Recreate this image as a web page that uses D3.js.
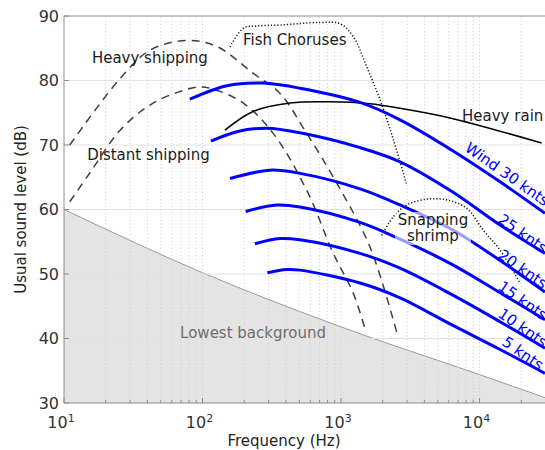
<!DOCTYPE html>
<html>
<head>
<meta charset="utf-8">
<script src="https://cdn.jsdelivr.net/npm/d3@7"></script>
<style>
  body { margin: 0; background: #fff; }
  svg { font-family: "DejaVu Sans", Verdana, sans-serif; }
</style>
</head>
<body>
<div id="container"></div>
<script>
/**
 * DATA (frequency in Hz, level in dB)
 * */
const yTicks = [30, 40, 50, 60, 70, 80, 90];
const xDecades = [1, 2, 3, 4];

const lowestBackground = [[10, 60], [100, 50.2], [1000, 41.8], [10000, 34.4], [30000, 30.8]];

const heavyShipping = [[11, 70], [25.4, 80.3], [41.8, 84.7], [76.9, 86.2], [126, 85.3], [233, 81.1],
  [363, 78], [565, 71.8], [931, 64.1], [1618, 54.2], [2523, 41]];
const distantShipping = [[11, 61.2], [15.4, 65.7], [25.4, 72.3], [41.8, 76.2], [68.7, 78.3], [95.8, 79],
  [126, 78.5], [197, 76.5], [324, 71.8], [565, 63], [879, 53.2], [1227, 47], [1514, 41]];
const fishChoruses = [[158, 85.2], [197, 88.1], [246, 88.45], [363, 88.6], [705, 89], [984, 88.8],
  [1227, 86.8], [1535, 82.1], [1915, 77], [2390, 70.8], [2985, 63.8]];
const snappingShrimp = [[1968, 56], [2390, 58.9], [2980, 60.7], [4150, 61.6], [5790, 61.5], [8070, 60.2],
  [10640, 56.8], [14070, 53.7], [19600, 48.6]];
const heavyRain = [[145, 72.3], [232, 75.2], [427, 76.5], [832, 76.7], [1618, 76.4], [2667, 75.7],
  [6120, 74.2], [28100, 70.3]];

const wind30 = [[81, 77.1], [150, 79.2], [273, 79.6], [506, 78.8], [1372, 76.6], [2667, 73.9], [6320, 69.2], [14070, 64.3], [29700, 59.4]];
const wind25 = [[115, 70.6], [180, 72.1], [291, 72.6], [506, 71.9], [1372, 69.6], [2667, 67.4], [6320, 62.8], [14070, 57.6], [29700, 53.2]];
const wind20 = [[158, 64.8], [307, 66.1], [506, 65.6], [1372, 63.2], [2667, 60.7], [6320, 56.9], [14070, 52.1], [29700, 47.2]];
const wind15 = [[205, 59.7], [343, 60.7], [506, 60.4], [1372, 58.0], [2667, 55.4], [6320, 51.5], [14070, 47.1], [29700, 42.9]];
const wind10 = [[239, 54.7], [363, 55.5], [506, 55.3], [1372, 53.2], [2667, 50.9], [6320, 46.8], [14070, 42.6], [29700, 38.5]];
const wind5 = [[294, 50.2], [405, 50.7], [506, 50.6], [1372, 48.6], [2667, 46.3], [6320, 42.1], [14070, 38.3], [29700, 34.6]];

const windSeries = [wind30, wind25, wind20, wind15, wind10, wind5];
const windNames = ["Wind 30 knts", "25 knts", "20 knts", "15 knts", "10 knts", "5 knts"];
const windLabelAt = [[7730, 69.2], [13370, 58.1], [13370, 52.6], [13370, 47.7], [13370, 43.5], [14300, 39.1]];

/**
 * LAYOUT
 * */
const width = 545, height = 450;
const margin = { top: 16, left: 64, bottom: 47 };

const svg = d3.select("#container").append("svg")
  .attr("width", width).attr("height", height);

const x = d3.scaleLog().domain([10, 30000]).range([margin.left, 545.6]);
const y = d3.scaleLinear().domain([30, 90]).range([height - margin.bottom, margin.top]);

const line = d3.line().x(d => x(d[0])).y(d => y(d[1])).curve(d3.curveMonotoneX);
const smooth = d3.line().x(d => x(d[0])).y(d => y(d[1])).curve(d3.curveCatmullRom.alpha(0.5));

svg.append("clipPath").attr("id", "plot")
  .append("rect")
  .attr("x", x.range()[0]).attr("y", y.range()[1])
  .attr("width", x.range()[1] - x.range()[0]).attr("height", y.range()[0] - y.range()[1]);

const plot = svg.append("g").attr("clip-path", "url(#plot)");

// grey "lowest background" area
const area = d3.area().x(d => x(d[0])).y0(y(30)).y1(d => y(d[1])).curve(d3.curveMonotoneX);
plot.append("path").datum(lowestBackground).attr("d", area).attr("fill", "#e4e4e4");
plot.append("path").datum(lowestBackground).attr("d", line)
  .attr("fill", "none").attr("stroke", "#9a9a9a").attr("stroke-width", 1);

// grid
const minorTicks = [];
xDecades.forEach(e => d3.range(1, 10).forEach(m => minorTicks.push(m * Math.pow(10, e))));
plot.selectAll(".vgrid").data(minorTicks.filter(v => v > 10 && v < 30000)).join("line")
  .attr("x1", d => x(d)).attr("x2", d => x(d))
  .attr("y1", y(30)).attr("y2", y(90))
  .attr("stroke", "#cdcdcd").attr("stroke-width", 1).attr("stroke-dasharray", "1,2.5");
plot.selectAll(".hgrid").data(yTicks.slice(1, -1)).join("line")
  .attr("x1", x.range()[0]).attr("x2", x.range()[1])
  .attr("y1", d => y(d)).attr("y2", d => y(d))
  .attr("stroke", "#e2e2e2").attr("stroke-width", 1);

// shipping, fish, shrimp, rain
plot.selectAll(".ship").data([heavyShipping, distantShipping]).join("path")
  .attr("d", smooth).attr("fill", "none").attr("stroke", "#404040")
  .attr("stroke-width", 1.5).attr("stroke-dasharray", "8,6");
plot.selectAll(".dots").data([fishChoruses, snappingShrimp]).join("path")
  .attr("d", smooth).attr("fill", "none").attr("stroke", "#111")
  .attr("stroke-width", 1.5).attr("stroke-dasharray", "1.2,2");
plot.append("path").datum(heavyRain).attr("d", smooth)
  .attr("fill", "none").attr("stroke", "#000").attr("stroke-width", 1.5);

// wind
plot.selectAll(".wind").data(windSeries).join("path")
  .attr("d", smooth).attr("fill", "none").attr("stroke", "#0000ff").attr("stroke-width", 3);

// translucent box behind the shrimp label
plot.append("rect")
  .attr("x", x(4610) - 38).attr("y", y(57.6) - 13).attr("width", 76).attr("height", 33)
  .attr("fill", "#fff").attr("fill-opacity", 0.6);

// labels
const labels = plot.append("g").attr("font-size", 15).attr("fill", "#1a1a1a");
labels.append("text").attr("x", x(15.9)).attr("y", y(82.7)).text("Heavy shipping");
labels.append("text").attr("x", x(14.7)).attr("y", y(67.7)).text("Distant shipping");
labels.append("text").attr("x", x(196)).attr("y", y(85.5)).text("Fish Choruses");
labels.append("text").attr("x", x(7480)).attr("y", y(73.7)).text("Heavy rain");
labels.append("text").attr("x", x(68.9)).attr("y", y(40.1)).attr("fill", "#6e6e6e").text("Lowest background");
labels.append("text").attr("text-anchor", "middle").attr("x", x(4610)).attr("y", y(57.6)).text("Snapping");
labels.append("text").attr("text-anchor", "middle").attr("x", x(4610)).attr("y", y(55.15)).text("shrimp");

plot.selectAll(".wlabel").data(windNames).join("text")
  .attr("font-size", 15).attr("fill", "#0000ff")
  .attr("transform", (d, i) => `translate(${x(windLabelAt[i][0])},${y(windLabelAt[i][1])}) rotate(35)`)
  .text(d => d);

// axes box
svg.append("line").attr("x1", x.range()[0]).attr("x2", x.range()[1])
  .attr("y1", y(90)).attr("y2", y(90)).attr("stroke", "#8c8c8c");
svg.append("line").attr("x1", x.range()[0]).attr("x2", x.range()[1])
  .attr("y1", y(30)).attr("y2", y(30)).attr("stroke", "#8c8c8c");
svg.append("line").attr("x1", x.range()[0]).attr("x2", x.range()[0])
  .attr("y1", y(30)).attr("y2", y(90)).attr("stroke", "#8c8c8c");

// inward ticks
svg.selectAll(".xt").data(minorTicks.filter(v => v < 30000)).join("line")
  .attr("x1", d => x(d)).attr("x2", d => x(d))
  .attr("y1", y(30)).attr("y2", d => y(30) - (Math.log10(d) % 1 === 0 ? 5 : 3))
  .attr("stroke", "#8c8c8c");
svg.selectAll(".yt").data(yTicks).join("line")
  .attr("x1", x.range()[0]).attr("x2", x.range()[0] + 5)
  .attr("y1", d => y(d)).attr("y2", d => y(d)).attr("stroke", "#8c8c8c");

// tick labels
svg.selectAll(".ylab").data(yTicks).join("text")
  .attr("x", x.range()[0] - 5).attr("y", d => y(d)).attr("dy", "0.36em")
  .attr("text-anchor", "end").attr("font-size", 16).attr("fill", "#333")
  .text(d => d);

const xl = svg.selectAll(".xlab").data(xDecades).join("text")
  .attr("x", d => x(Math.pow(10, d)) - 3).attr("y", y(30) + 25)
  .attr("text-anchor", "middle").attr("font-size", 16).attr("fill", "#333");
xl.append("tspan").text("10");
xl.append("tspan").attr("font-size", 11).attr("dy", "-0.55em").text(d => d);

svg.append("text").attr("x", 284).attr("y", 446).attr("text-anchor", "middle")
  .attr("font-size", 15).attr("fill", "#222").text("Frequency (Hz)");
svg.append("text").attr("transform", `translate(26,${(y(30) + y(90)) / 2}) rotate(-90)`)
  .attr("text-anchor", "middle").attr("font-size", 15).attr("fill", "#222")
  .text("Usual sound level (dB)");
</script>
</body>
</html>
